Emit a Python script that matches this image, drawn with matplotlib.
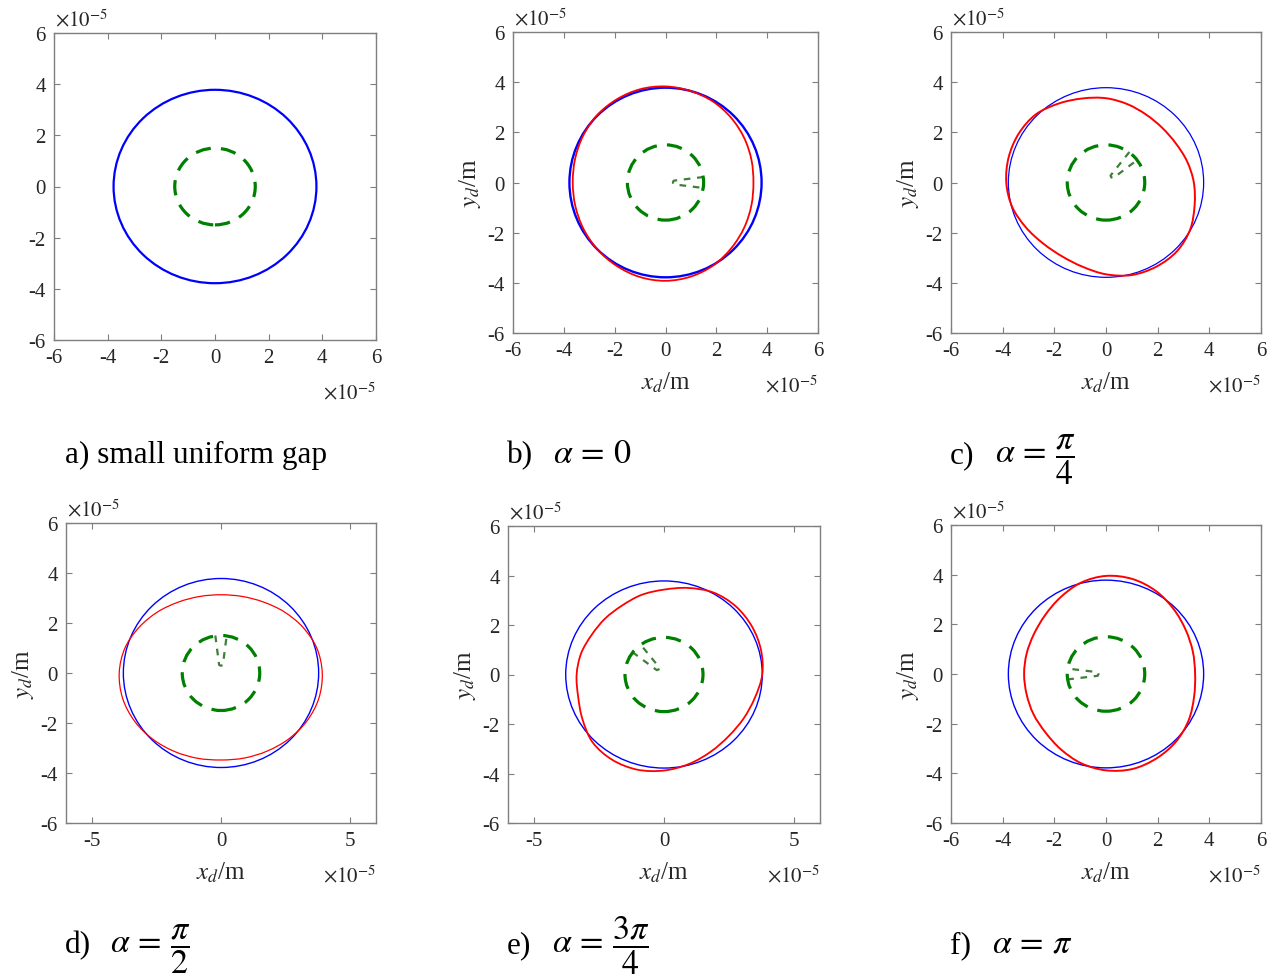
import numpy as np
import matplotlib
matplotlib.use('Agg')
import matplotlib.pyplot as plt
from matplotlib.patches import Circle, PathPatch
from matplotlib.path import Path

plt.rcParams['font.family'] = ['Liberation Serif', 'DejaVu Serif']
plt.rcParams['mathtext.fontset'] = 'stix'
plt.rcParams['axes.unicode_minus'] = False

# all lengths in units of 1e-5 m
r_nominal = 3.78      # blue orbit
r_inner = 1.5         # green dashed circle

# red orbit radius read every 15 degrees (0 .. 345)
angles_deg = [0, 15, 30, 45, 60, 75, 90, 105, 120, 135, 150, 165,
              180, 195, 210, 225, 240, 255, 270, 285, 300, 315, 330, 345]
r_red_b = [3.46, 3.50, 3.57, 3.65, 3.73, 3.78, 3.83, 3.85, 3.83, 3.80, 3.74, 3.68,
           3.65, 3.67, 3.72, 3.78, 3.84, 3.90, 3.92, 3.88, 3.80, 3.68, 3.58, 3.50]
r_red_c = [3.40, 3.25, 3.12, 3.08, 3.12, 3.23, 3.36, 3.47, 3.64, 3.84, 3.90, 3.90,
           3.86, 3.76, 3.58, 3.44, 3.40, 3.48, 3.66, 3.82, 3.88, 3.88, 3.76, 3.55]
r_red_d = [3.92, 3.84, 3.66, 3.46, 3.28, 3.17, 3.13, 3.17, 3.28, 3.46, 3.66, 3.85,
           3.94, 3.94, 3.86, 3.74, 3.62, 3.53, 3.48, 3.52, 3.60, 3.72, 3.84, 3.92]
r_red_e = [3.78, 3.86, 3.90, 3.90, 3.82, 3.62, 3.43, 3.33, 3.22, 3.20, 3.21, 3.30,
           3.36, 3.42, 3.62, 3.88, 3.98, 3.98, 3.88, 3.74, 3.60, 3.52, 3.54, 3.62]
r_red_f = [3.45, 3.48, 3.56, 3.70, 3.86, 3.96, 3.95, 3.80, 3.55, 3.34, 3.22, 3.18,
           3.17, 3.18, 3.24, 3.32, 3.50, 3.72, 3.88, 3.96, 3.92, 3.84, 3.70, 3.53]

# notch direction for panels b..f (rad)
alphas = [0.0, np.pi / 4, np.pi / 2, 3 * np.pi / 4, np.pi]

# small inner notch outline, along / across the alpha direction
wedge_u = [1.50, 0.38, 0.32, 0.29, 0.32, 0.38, 1.50]
wedge_v = [0.22, 0.08, 0.07, 0.00, -0.07, -0.08, -0.22]

caption_tags = ['a) small uniform gap', 'b)', 'c)', 'd)', 'e)', 'f)']
caption_math = [None,
                r'$\alpha\,=\,0$',
                r'$\alpha\,=\,\dfrac{\pi}{4}$',
                r'$\alpha\,=\,\dfrac{\pi}{2}$',
                r'$\alpha\,=\,\dfrac{3\pi}{4}$',
                r'$\alpha\,=\,\pi$']


def smooth_closed(px, py):
    # closed curve through the read points, drawn as cubic Bezier pieces
    n = len(px)
    verts = [(px[0], py[0])]
    codes = [Path.MOVETO]
    for k in range(n):
        p0 = np.array([px[k - 1], py[k - 1]])
        p1 = np.array([px[k], py[k]])
        p2 = np.array([px[(k + 1) % n], py[(k + 1) % n]])
        p3 = np.array([px[(k + 2) % n], py[(k + 2) % n]])
        verts += [tuple(p1 + (p2 - p0) / 6), tuple(p2 - (p3 - p1) / 6), tuple(p2)]
        codes += [Path.CURVE4] * 3
    return Path(verts, codes)


W, H = 1275, 979
fig = plt.figure(figsize=(W / 100, H / 100), dpi=100)

boxes = [(54, 34, 376, 341), (513, 33, 818, 334), (951, 33, 1261, 334),
         (66, 524, 376, 824), (508, 527, 820, 824), (951, 526, 1261, 824)]
caption_pos = [(65, 463), (507, 463), (950, 463), (65, 953), (507, 953), (950, 953)]
math_x = [None, 553, 995, 110, 552, 992]
blue_lw = [1.6, 1.7, 0.9, 1.0, 1.0, 1.0]
red_lw = [0, 1.3, 1.4, 0.9, 1.3, 1.4]

gray = '#7f7f7f'
txt = '#262626'
red_sets = [None, r_red_b, r_red_c, r_red_d, r_red_e, r_red_f]

th = np.deg2rad(angles_deg)
for i, (l, t, r, b) in enumerate(boxes):
    ax = fig.add_axes([l / W, 1 - b / H, (r - l) / W, (b - t) / H])
    ax.set_xlim(-6, 6)
    ax.set_ylim(-6, 6)
    if i in (3, 4):
        ax.set_xticks([-5, 0, 5])
    else:
        ax.set_xticks([-6, -4, -2, 0, 2, 4, 6])
    ax.set_yticks([-6, -4, -2, 0, 2, 4, 6])
    ax.tick_params(direction='in', length=4, width=0.8, color=gray,
                   labelsize=15, labelcolor=txt, top=True, right=True, pad=6)
    for s in ax.spines.values():
        s.set_color(gray)
        s.set_linewidth(1.0)

    # orbits
    ax.add_patch(Circle((0, 0), r_nominal, fill=False, color='blue', lw=blue_lw[i], zorder=3))
    if red_sets[i] is not None:
        rr = np.array(red_sets[i])
        ax.add_patch(PathPatch(smooth_closed(rr * np.cos(th), rr * np.sin(th)),
                               fill=False, edgecolor='red', lw=red_lw[i], zorder=4))
        a = alphas[i - 1]
        u = np.array(wedge_u)
        v = np.array(wedge_v)
        ax.plot(u * np.cos(a) - v * np.sin(a), u * np.sin(a) + v * np.cos(a),
                color='#3f7f3a', lw=1.6, dashes=(3, 3), zorder=2)
    ax.add_patch(Circle((0, 0), r_inner, fill=False, color='green', lw=2.3,
                        ls=(0, (4.8, 3.2)), zorder=2))

    # exponent labels
    ax.annotate(r'$\times10^{-5}$', xy=(0, 1), xycoords='axes fraction',
                xytext=(1, 2), textcoords='offset points', ha='left', va='bottom',
                fontsize=15, color=txt)
    ax.annotate(r'$\times10^{-5}$', xy=(1, 0), xycoords='axes fraction',
                xytext=(0, -30), textcoords='offset points', ha='right', va='top',
                fontsize=15, color=txt)
    if i > 0:
        ax.set_xlabel(r'$x_d$/m', fontsize=18, color=txt, labelpad=7)
        ax.set_ylabel(r'$y_d$/m', fontsize=18, color=txt, labelpad=3)

for k, ((cx, cy), tag) in enumerate(zip(caption_pos, caption_tags)):
    fig.text(cx / W, 1 - cy / H, tag, fontsize=22.5, va='baseline', ha='left', color='black')
    if caption_math[k] is not None:
        fig.text(math_x[k] / W, 1 - cy / H, caption_math[k], fontsize=24.5,
                 va='baseline', ha='left', color='black')

fig.savefig('out.png', dpi=100)
